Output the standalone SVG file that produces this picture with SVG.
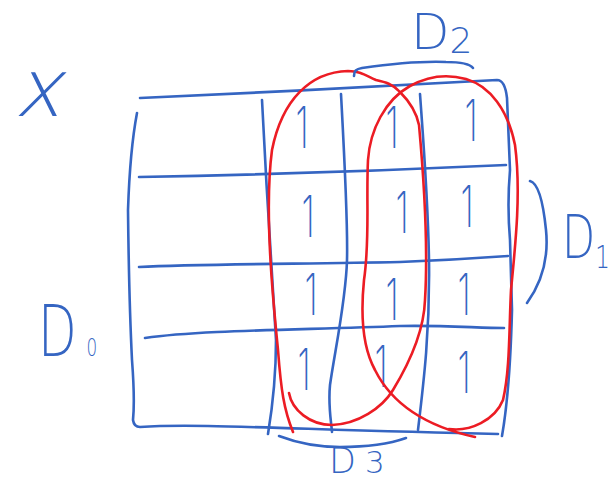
<svg xmlns="http://www.w3.org/2000/svg" width="610" height="482" viewBox="0 0 610 482">
<style>
.b{fill:none;stroke:#3565c2;stroke-width:2.6;stroke-linecap:round;stroke-linejoin:round}
.r{fill:none;stroke:#ec1c24;stroke-width:2.6;stroke-linecap:round;stroke-linejoin:round}
.t{fill:#3565c2;font-family:"DejaVu Sans","Liberation Sans",sans-serif;font-weight:200}
.one{fill:#3565c2;font-family:Inter,"Liberation Sans",sans-serif;font-weight:200;font-size:58px;text-anchor:middle}
</style>
<rect width="610" height="482" fill="#ffffff"/>
<g id="grid">
<path class="b" d="M140,98 C250,93 400,86 497,80 Q505,80 507,98 L510,170 Q507,205 510,240 L512,310 Q510,390 502,436"/>
<path class="b" d="M137,113 Q130,150 128,210 Q129,300 132,360 Q135,400 133,420 Q134,427 140,427 C200,423 300,430 498,434"/>
<path class="b" d="M139,177 C250,175 400,170 506,165"/>
<path class="b" d="M139,267 C200,264 300,264 400,262 C450,260 480,258 508,256"/>
<path class="b" d="M145,338 C200,330 300,330 400,326 C440,325 480,328 504,328"/>
<path class="b" d="M262,100 C266,180 272,280 276,340 C276,380 272,410 268,434"/>
<path class="b" d="M341,94 C344,150 348,220 347,260 C346,300 335,350 330,385 C328,405 331,420 332,432"/>
<path class="b" d="M420,94 C424,150 428,200 429,260 C430,330 424,380 418,430"/>
</g>
<g id="cells">
<text class="one" transform="translate(302,148) scale(0.6,1)">1</text>
<text class="one" transform="translate(392,148) scale(0.6,1)">1</text>
<text class="one" transform="translate(471,141) scale(0.6,1)">1</text>
<text class="one" transform="translate(308,237) scale(0.6,1)">1</text>
<text class="one" transform="translate(402,233) scale(0.6,1)">1</text>
<text class="one" transform="translate(467,227) scale(0.6,1)">1</text>
<text class="one" transform="translate(311,315) scale(0.6,1)">1</text>
<text class="one" transform="translate(392,320) scale(0.6,1)">1</text>
<text class="one" transform="translate(464,315) scale(0.6,1)">1</text>
<text class="one" transform="translate(304,390) scale(0.6,1)">1</text>
<text class="one" transform="translate(381,387) scale(0.6,1)">1</text>
<text class="one" transform="translate(464,393) scale(0.6,1)">1</text>
</g>
<g id="loops">
<path class="r" d="M289,393 C292,410 310,425 332,425 C358,424 382,408 393,390 C410,362 424,330 425,300 C428,250 424,180 419,125 C416,110 408,100 400,92 C393,84 385,82 376,80 C365,75 360,71 348,71 C310,72 282,100 272,150 C264,210 273,300 278,350 C281,390 284,410 293,432"/>
<path class="r" d="M449,429 C470,432 495,420 503,400 C510,370 509,330 511,290 C516,240 521,190 515,145 C508,110 490,86 466,79 C448,74 428,76 410,86 C385,100 370,130 368,160 C366,200 370,240 364,280 C360,320 364,350 375,370 C390,400 420,425 475,437"/>
</g>
<g id="labels">
<path class="b" d="M354,76 C354,71 356,69 362,68 C390,64 420,61 446,62 C462,62 470,64 473,68"/>
<path class="b" d="M530,181 C538,183 543,200 546,230 C549,260 540,285 527,303"/>
<path class="b" d="M279,436 C300,444 320,447 340,447 C370,447 392,443 406,438"/>
<text class="t" transform="translate(14,116) skewX(-14)" font-size="80">x</text>
<text class="t" x="411" y="49" font-size="50">D<tspan font-size="36" y="53">2</tspan></text>
<text class="t" transform="translate(562,258) scale(0.72,1)" font-size="60">D<tspan font-size="32" dx="0" y="10">1</tspan></text>
<text class="t" transform="translate(38,356) scale(0.7,1)" font-size="72">D<tspan font-size="24" dx="14" y="0">0</tspan></text>
<text class="t" x="329" y="473" font-size="35">D<tspan font-size="31" dx="9">3</tspan></text>
</g>
</svg>
